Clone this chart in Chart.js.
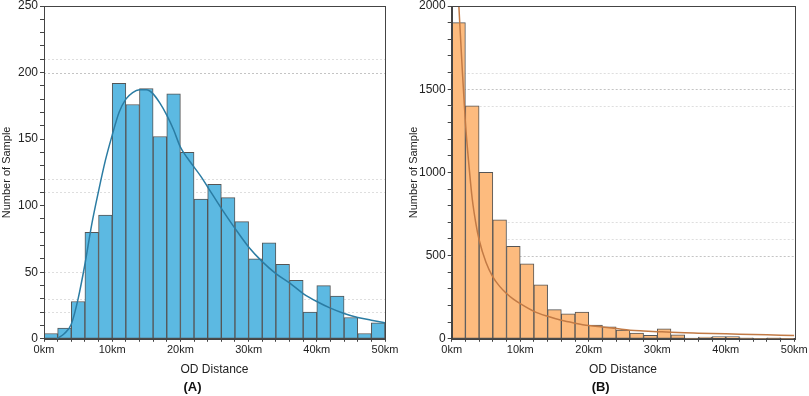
<!DOCTYPE html>
<html><head><meta charset="utf-8">
<script src="https://cdn.jsdelivr.net/npm/chart.js@4.4.0/dist/chart.umd.min.js"></script>
<style>
html,body{margin:0;padding:0;background:#fff;}
#wrap{position:relative;width:809px;height:396px;overflow:hidden;}
.box{position:absolute;top:0;height:396px;}
</style></head><body>
<div id="wrap">
<div class="box" style="left:0;width:400px"><canvas id="cA"></canvas></div>
<div class="box" style="left:400px;width:409px"><canvas id="cB"></canvas></div>
</div>
<script>
// ---- data ----
const binStartKm = [0,2,4,6,8,10,12,14,16,18,20,22,24,26,28,30,32,34,36,38,40,42,44,46,48];
const binWidthKm = 2;
const countsA = [4,8,28,80,93,192,176,188,152,184,140,105,116,106,88,60,72,56,44,20,40,32,16,4,12];
const countsB = [1900,1400,1000,715,555,450,325,175,150,160,82,72,52,34,21,60,24,4,10,14,14,6,1,6,2];
const fitA_km  = [1.9,3,4,5,6,7,8,9,10,11,12,13,14,15,16,17,18,19,20,21,22,23,24,26,28,30,32,34,36,38,40,42,44,46,48,50];
const fitA_val = [0,4,11,30,56,86,111,134,153,170,180,185,187,187,184,177,168,157,144,136,129,122,114,98,83,69,58,49,42,34,28,23,19,16,14,12];
const fitB_km  = [1.0,1.5,2.0,2.5,3.0,3.5,4.0,5,6,7,8,9,10,12,14,16,18,20,22,24,26,28,30,32,34,36,38,40,42,44,46,48,50];
const fitB_val = [2035,1650,1300,1050,840,700,595,460,372,315,272,238,211,165,135,111,94,80,71,62,52,47,43,39,36,34,32,30,28,26,24,22,20];
const guideA = [210,200,120,110,50,30,20];
const guideB = [1600,1500,1400,700,600,500];
const yMaxA = 250, yMaxB = 2000;
const xMaxKm = 50;
const yAxisTitle = 'Number of Sample';
const xAxisTitle = 'OD Distance';
const panelTitles = ['(A)','(B)'];

const FONT = "'Liberation Sans', Arial, sans-serif";
const frame = {
  id:'frame',
  beforeDatasetsDraw(chart, args, opts){
    const {ctx, chartArea:a} = chart; const y = chart.scales.y;
    ctx.save();
    (opts.guides||[]).forEach(v=>{
      const py = Math.round(y.getPixelForValue(v))+0.5;
      ctx.strokeStyle = (opts.dark||[]).includes(v) ? '#c4c4c4' : '#dedede';
      ctx.lineWidth = 1; ctx.setLineDash([2,2]);
      ctx.beginPath(); ctx.moveTo(a.left,py); ctx.lineTo(a.right,py); ctx.stroke();
    });
    ctx.restore();
  },
  afterDraw(chart){
    const {ctx, chartArea:a} = chart;
    ctx.save(); ctx.strokeStyle='#444'; ctx.lineWidth=1;
    ctx.strokeRect(Math.round(a.left)+0.5, Math.round(a.top)+0.5, Math.round(a.right-a.left), Math.round(a.bottom-a.top));
    ctx.restore();
  }
};

function make(id, counts, fx, fy, yMax, yStep, yLabStep, guides, dark, barColor, lineColor, title, padL, padR, yW){
  const bars = binStartKm.map((s,i)=>({x:s+binWidthKm/2, y:counts[i]}));
  const fit = fx.map((x,i)=>({x:x, y:fy[i]}));
  return new Chart(document.getElementById(id), {
    type:'bar',
    data:{datasets:[
      {type:'line', data:fit, borderColor:lineColor, borderWidth:1.5, pointRadius:0, cubicInterpolationMode:'monotone', fill:false},
      {type:'bar', data:bars, backgroundColor:barColor, borderColor:'#555', borderWidth:1, borderSkipped:false, barPercentage:1, categoryPercentage:1}
    ]},
    options:{
      responsive:true, maintainAspectRatio:false, animation:false,
      layout:{padding:{top:6,right:padR,left:padL,bottom:0}},
      plugins:{legend:{display:false}, tooltip:{enabled:false},
        title:{display:true, position:'bottom', text:title, color:'#111', font:{family:FONT,size:13,weight:'bold'}, padding:{top:1,bottom:1}},
        frame:{guides:guides, dark:dark}},
      scales:{
        x:{type:'linear', min:0, max:xMaxKm, offset:false,
          afterFit(s){ s.paddingRight = 0; s.paddingLeft = 0; },
          grid:{drawOnChartArea:false, offset:false, tickLength:3, color:'#444'},
          border:{color:'#444'},
          ticks:{stepSize:2, autoSkip:false, maxRotation:0, padding:2, color:'#222', font:{family:FONT,size:11},
            callback:v=> v%10===0 ? v+'km' : ''},
          title:{display:true, text:xAxisTitle, color:'#222', font:{family:FONT,size:12}, padding:{top:3,bottom:2}}
        },
        y:{min:0, max:yMax,
          afterFit(s){ s.width = yW; s.paddingTop = 0; s.paddingBottom = 0; },
          grid:{drawOnChartArea:false, tickLength:4, color:'#444'},
          border:{color:'#444'},
          ticks:{stepSize:yStep, autoSkip:false, padding:2, color:'#222', font:{family:FONT,size:12},
            callback:v=> v%yLabStep===0 ? String(v) : ''},
          title:{display:true, text:yAxisTitle, color:'#222', font:{family:FONT,size:11}, padding:{top:0,bottom:2}}
        }
      }
    },
    plugins:[frame]
  });
}
make('cA', countsA, fitA_km, fitA_val, yMaxA, 10, 50, guideA, [200], '#5cb9e2', '#2b7ca3', panelTitles[0], 0, 15, 44);
make('cB', countsB, fitB_km, fitB_val, yMaxB, 100, 500, guideB, [1500,500], '#fdbb7e', '#c27a45', panelTitles[1], 7, 14.7, 44.7);
</script>
</body></html>
